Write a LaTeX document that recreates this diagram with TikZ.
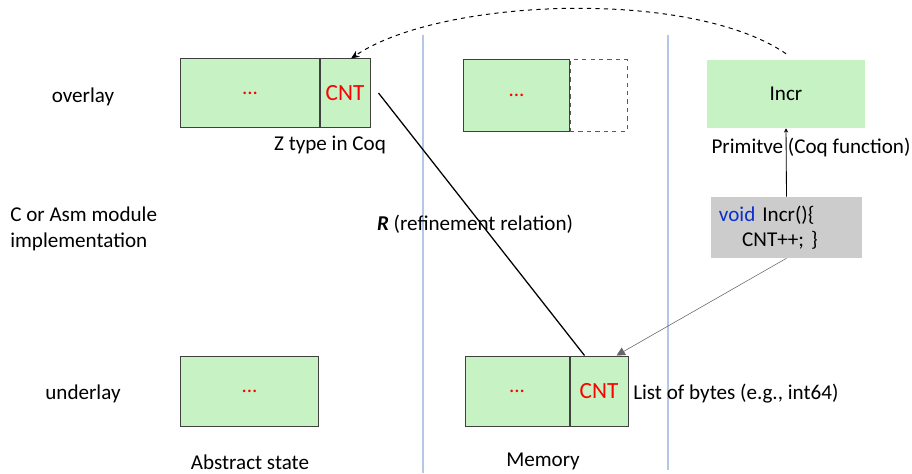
\documentclass[tikz,border=0pt]{standalone}
\usepackage{fontspec}
\setmainfont{Carlito}
\usetikzlibrary{positioning,arrows.meta}
\definecolor{cellgreen}{HTML}{C7F2C3}
\definecolor{codegray}{HTML}{CCCCCC}
\definecolor{laneblue}{HTML}{B4C7E7}
\definecolor{kwblue}{HTML}{0A2FD0}
\tikzset{
    cell/.style = {draw=black!75, fill=cellgreen, line width=0.7pt, inner sep=0pt,
                   minimum height=1.7cm, text=red},
    cnt/.style = {cell, font=\fontsize{16.5}{19}\selectfont},
    lane/.style = {draw=laneblue, line width=0.9pt},
    caption/.style = {inner sep=0pt}
}

\begin{document}
\begin{tikzpicture}[x=0.025cm, y=-0.025cm, font=\fontsize{15}{18}\selectfont]
    \useasboundingbox (0,0) rectangle (912,473);

    % lane separators
    \draw [lane] (423,35) -- (423,473);
    \draw [lane] (668,35) -- (668,470);

    % row labels
    \node [caption] (overlay) at (83,97) {overlay};
    \node [caption, align=left, anchor=west] (impl) at (10,229) {C or Asm module\\ implementation};
    \node [caption] (underlay) at (83,394) {underlay};

    % abstract state
    \begin{scope}[name prefix = abs-]
        \node [cell, minimum width=3.45cm] (rest) at (250,93) {...};
        \node [cnt, minimum width=1.25cm, right=0pt of rest] (CNT) {CNT};
        \node [cell, minimum width=3.425cm, minimum height=1.75cm] (low) at (249.5,391) {...};
        \node [caption] (ztype) at (330,145) {Z type in Coq};
        \node [caption] (title) at (250,462) {Abstract state};
    \end{scope}

    % memory
    \begin{scope}[name prefix = mem-]
        \node [draw=black!65, dashed, line width=0.7pt, minimum width=1.425cm,
               minimum height=1.775cm, inner sep=0pt] (free) at (598.5,95.5) {};
        \node [cell, minimum width=2.625cm, minimum height=1.775cm, left=0pt of free] (top) {...};
        \node [cell, minimum width=2.6cm, minimum height=1.75cm] (rest) at (517,391) {...};
        \node [cnt, minimum width=1.45cm, minimum height=1.75cm, right=0pt of rest] (CNT) {CNT};
        \node [caption, anchor=west] (bytes) at (633,394) {List of bytes (e.g., int64)};
        \node [caption] (title) at (543,461) {Memory};
    \end{scope}

    % primitive and its code
    \node [fill=cellgreen, minimum width=3.95cm, minimum height=1.7cm] (incr) at (786,94) {Incr};
    \node [caption] (prim) at (811,147) {Primitve (Coq function)};
    \node [fill=codegray, minimum width=3.775cm, minimum height=1.525cm, inner xsep=0.2cm,
           text width=3.375cm, align=left] (code) at (786.5,227.5)
          {\textcolor{kwblue}{void} Incr()\{\\ \hspace*{1.1em}CNT++; \}};

    \node [caption] (rel) at (475,224) {\textbf{\textit{R}} (refinement relation)};

    % connectors
    \draw [line width=0.9pt] ([xshift=0.2cm]abs-CNT.east) -- ([xshift=0.375cm]mem-CNT.north west);
    \draw [line width=0.6pt, -{Stealth[length=3pt,width=3pt]}] (code.north) -- (incr.south);
    \draw [black!60, line width=0.4pt, -{Triangle[length=6pt,width=6pt]}]
        (code.south) -- ([xshift=-0.3cm]mem-CNT.north east);
    \draw [dashed, line width=0.7pt, -{Stealth[length=6pt,width=5pt]}]
        ([yshift=0.15cm]incr.north) .. controls (690,-12) and (440,-2) .. ([xshift=0.15cm]abs-CNT.north);
\end{tikzpicture}
\end{document}
